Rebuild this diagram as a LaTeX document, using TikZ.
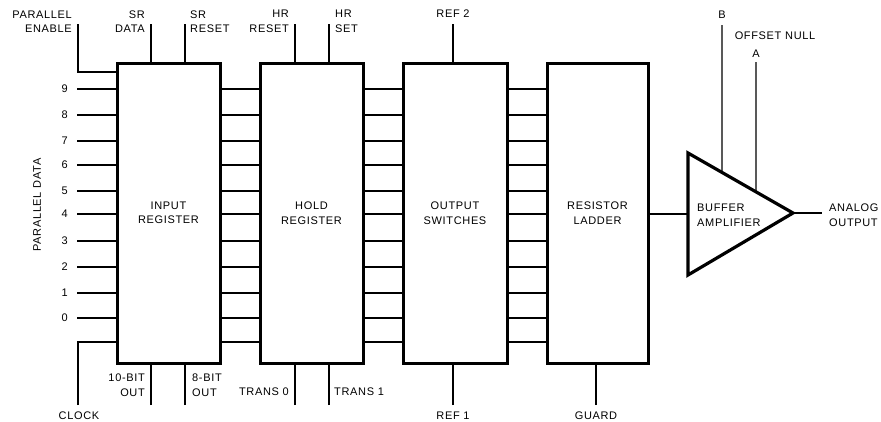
\documentclass[tikz,border=0pt]{standalone}
\usepackage{fontspec}
\setmainfont{Liberation Sans}[LetterSpace=6]
\usetikzlibrary{calc}
\tikzset{
  blk/.style={draw, line width=3pt, minimum width=#1, minimum height=300pt, inner sep=0pt, align=center},
  sig/.style={line width=1.8pt},
  fine/.style={line width=1.2pt},
  lbl/.style={inner sep=0pt, align=#1},
  lbl/.default=center
}
\begin{document}
\begin{tikzpicture}[x=1pt,y=-1pt,font=\fontsize{11}{14.5}\selectfont]
\useasboundingbox (0,0) rectangle (881,421);
% blocks
\node[blk=103pt] (inreg) at (168.5,213) {INPUT\\REGISTER};
\node[blk=103pt] (hold) at (311.5,213) {HOLD\\REGISTER};
\node[blk=104pt] (osw) at (455,213) {OUTPUT\\SWITCHES};
\node[blk=101pt] (lad) at (597.5,213) {RESISTOR\\LADDER};
% parallel data
\foreach \y/\d in {89/9,115/8,141/7,165/6,191/5,214/4,241/3,267/2,293/1,318/0}{
  \node[lbl, anchor=east] (d\d) at (68,\y) {\d};
  \coordinate (p\d) at (77,\y);
  \draw[sig] (p\d) -- (p\d -| inreg.west);
}
\node[lbl, rotate=90] (pdata) at (37,205) {PARALLEL DATA};
% inter-block buses
\foreach \y in {89,115,141,165,191,214,241,267,293,318,342}{
  \draw[sig] (inreg.east |- 0,\y) -- (hold.west |- 0,\y);
  \draw[sig] (hold.east |- 0,\y) -- (osw.west |- 0,\y);
  \draw[sig] (osw.east |- 0,\y) -- (lad.west |- 0,\y);
}
% parallel enable and clock
\coordinate (pe) at (78,24);
\draw[sig] (pe) |- (inreg.west |- 0,72);
\node[lbl=right, anchor=east] (pel) at (72,21.5) {PARALLEL\\ENABLE};
\coordinate (clk) at (78,405);
\draw[sig] (clk) |- (inreg.west |- 0,342);
\node[lbl] (clkl) at (79,416) {CLOCK};
% top control lines
\coordinate (srd) at (151,24);
\coordinate (srr) at (185,24);
\coordinate (hrr) at (295,24);
\coordinate (hrs) at (329,24);
\coordinate (rf2) at (453,24);
\draw[sig] (srd) -- (srd |- inreg.north);
\draw[sig] (srr) -- (srr |- inreg.north);
\draw[sig] (hrr) -- (hrr |- hold.north);
\draw[sig] (hrs) -- (hrs |- hold.north);
\draw[sig] (rf2) -- (rf2 |- osw.north);
\node[lbl=right, anchor=east] (srdl) at (145,21.5) {SR\\DATA};
\node[lbl=left, anchor=west] (srrl) at (190,21.5) {SR\\RESET};
\node[lbl=right, anchor=east] (hrrl) at (289,21.5) {HR\\RESET};
\node[lbl=left, anchor=west] (hrsl) at (335,21.5) {HR\\SET};
\node[lbl] (rf2l) at (453,14) {REF 2};
% bottom control lines
\coordinate (b10) at (151,405);
\coordinate (b8) at (185,405);
\coordinate (tr0) at (295,405);
\coordinate (tr1) at (329,405);
\coordinate (rf1) at (453,405);
\coordinate (grd) at (596,405);
\draw[sig] (b10) -- (b10 |- inreg.south);
\draw[sig] (b8) -- (b8 |- inreg.south);
\draw[sig] (tr0) -- (tr0 |- hold.south);
\draw[sig] (tr1) -- (tr1 |- hold.south);
\draw[sig] (rf1) -- (rf1 |- osw.south);
\draw[sig] (grd) -- (grd |- lad.south);
\node[lbl=right, anchor=east] (b10l) at (145,385) {10-BIT\\OUT};
\node[lbl=left, anchor=west] (b8l) at (192,385) {8-BIT\\OUT};
\node[lbl, anchor=east] (tr0l) at (289,392) {TRANS 0};
\node[lbl, anchor=west] (tr1l) at (334,392) {TRANS 1};
\node[lbl] (rf1l) at (453,416) {REF 1};
\node[lbl] (grdl) at (596,416) {GUARD};
% buffer amplifier
\coordinate (ta) at (688,153);
\coordinate (tb) at (688,275);
\coordinate (tc) at (793,213);
\draw[line width=3.2pt, line join=miter] (ta) -- (tc) -- (tb) -- cycle;
\node[lbl=left, anchor=west] (ampl) at (697,215) {BUFFER\\AMPLIFIER};
\coordinate (ain) at (688,214);
\draw[line width=1.6pt] (lad.east |- ain) -- (ain);
\coordinate (aout) at (822,213);
\draw[line width=1.6pt] (tc) -- (aout);
\node[lbl=left, anchor=west] (aoutl) at (829,215) {ANALOG\\OUTPUT};
\coordinate (nb) at (722,25);
\coordinate (na) at (756,62);
\draw[fine] (nb) -- ($(ta)!0.324!(tc)$);
\draw[fine] (na) -- ($(ta)!0.648!(tc)$);
\node[lbl] (nbl) at (722,15) {B};
\node[lbl] (offl) at (775,36) {OFFSET NULL};
\node[lbl] (nal) at (756,54) {A};
\end{tikzpicture}
\end{document}
